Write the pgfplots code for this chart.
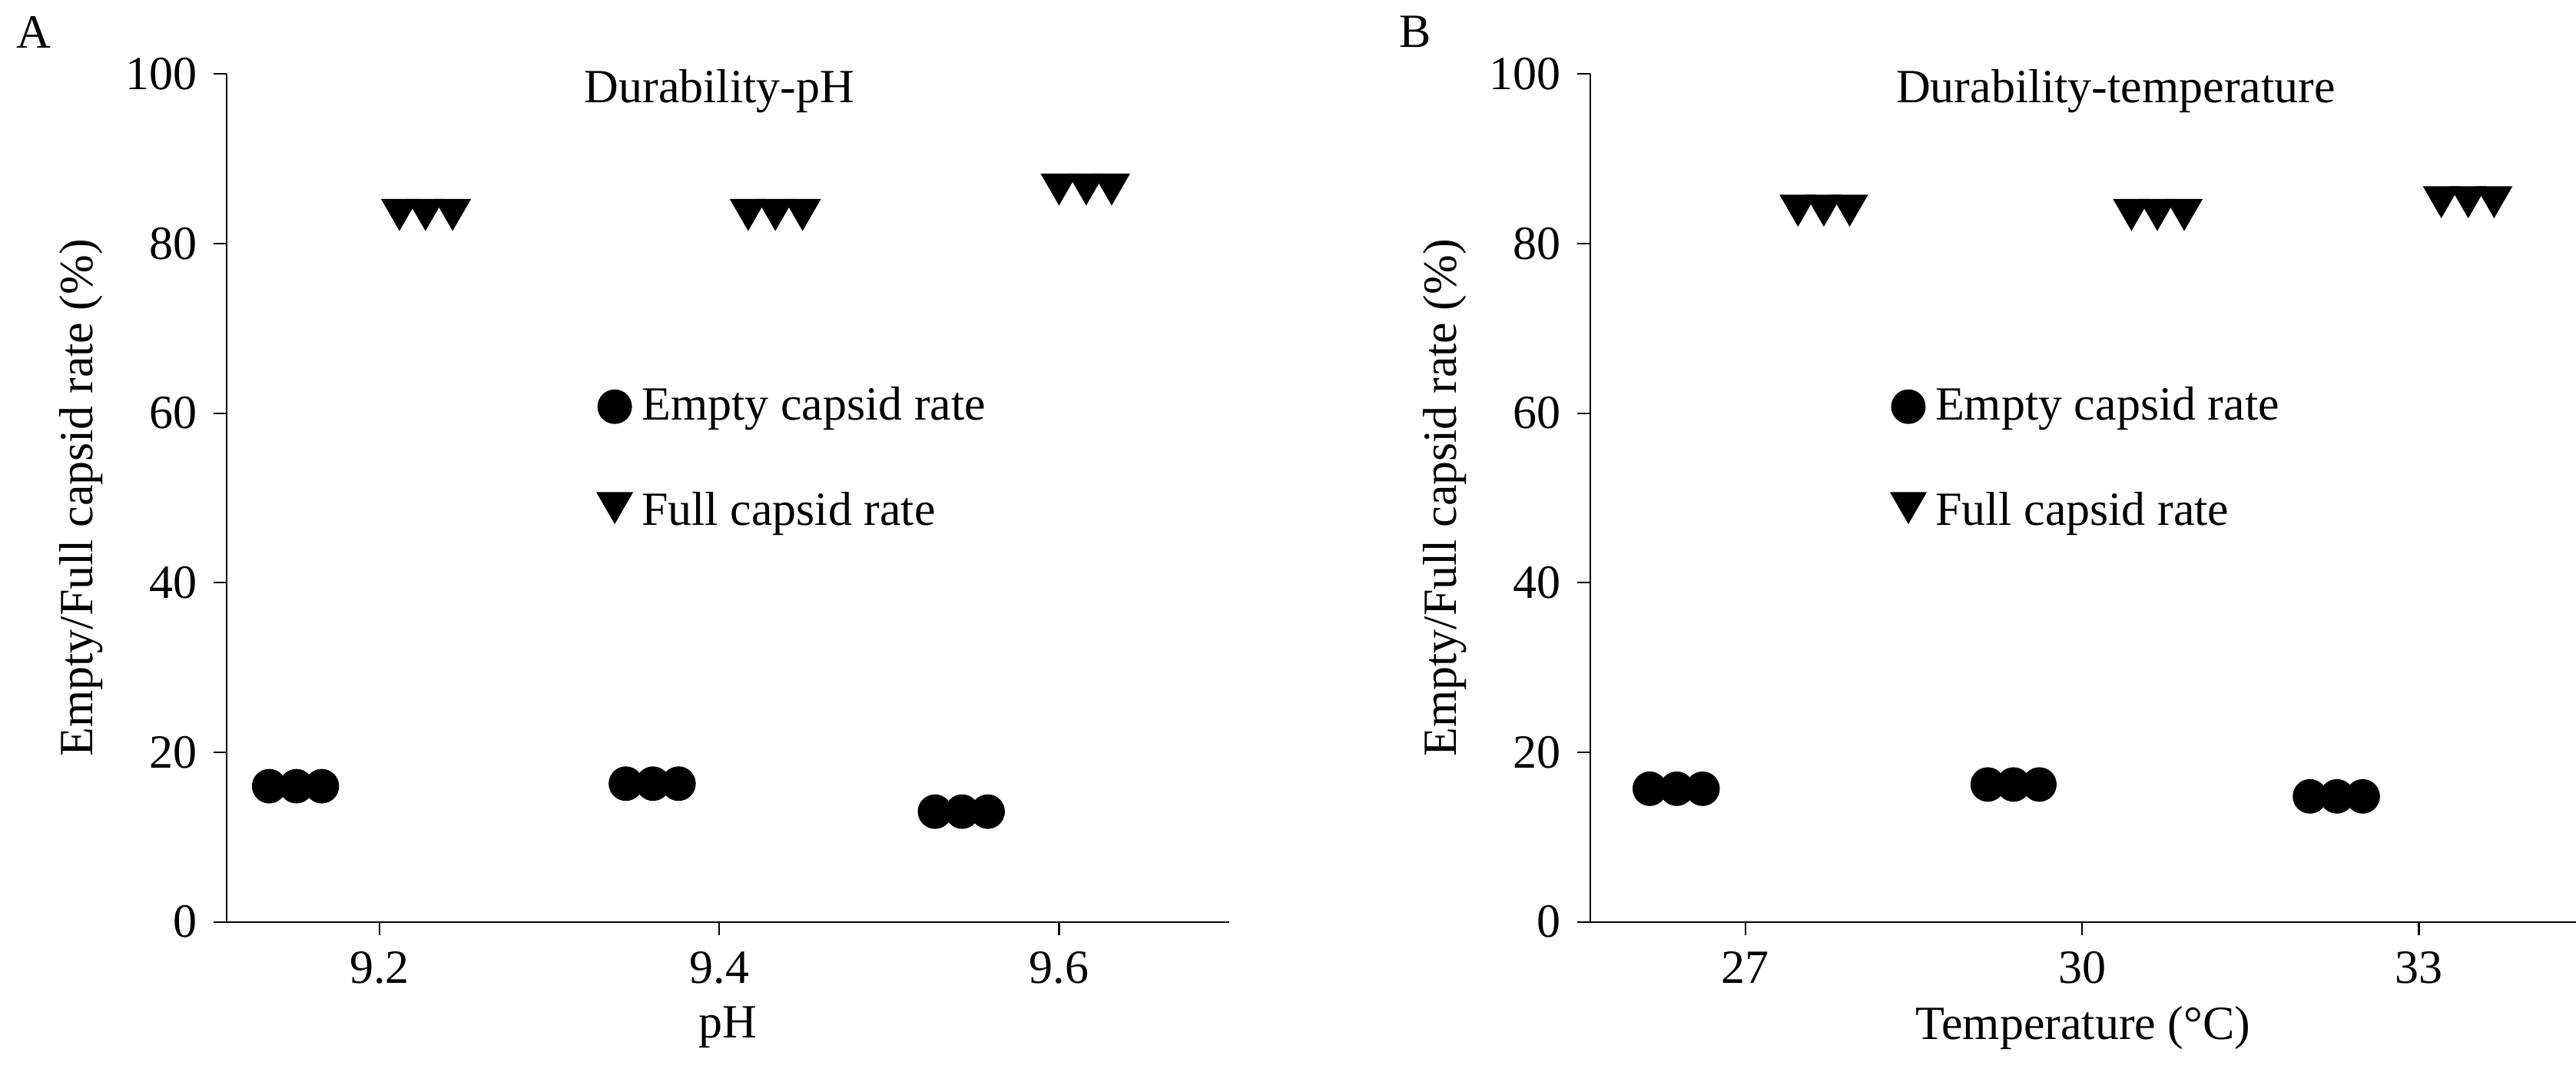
\documentclass[border=0pt]{standalone}
\usepackage{pgfplots}
\pgfplotsset{compat=1.18}
\usepackage{fontspec}
\setmainfont{Liberation Serif}
\begin{document}
\fontsize{29}{34}\selectfont
\begin{tikzpicture}
\pgfplotsset{
  myax/.style={scale only axis, width=610pt, height=516pt, ymin=0, ymax=100,
    axis x line*=bottom, axis y line*=left, ytick={0,20,...,100},
    tick align=outside, major tick length=8pt, line width=1pt,
    every tick/.style={line width=1pt,black},
    ticklabel style={font=\fontsize{29}{34}\selectfont},
    label style={font=\fontsize{29}{34}\selectfont},
    /pgf/number format/assume math mode=true,
    ylabel={Empty/Full capsid rate (\%)}, ylabel style={yshift=-6pt},
    xlabel style={yshift=6pt},
    legend style={draw=none, fill=none, font=\fontsize{29}{34}\selectfont, row sep=36pt,
      /tikz/every odd column/.style={column sep=4pt}},
    legend cell align=left, clip=false},
  circ/.style={only marks, mark=*, mark size=10pt, black},
  tri/.style={only marks, mark=triangle*, mark size=12pt, black, mark options={rotate=180},
    legend image code/.code={\draw[mark=triangle*, mark size=12pt, mark options={rotate=180}] plot coordinates {(0.3cm,6pt)};}},
}
\useasboundingbox (0,0) rectangle (1568pt,652pt);
\node[anchor=north west] at (0pt,652pt) {A};
\node[anchor=north west] at (842pt,652pt) {B};
\begin{axis}[myax, at={(138pt,91pt)}, anchor=south west, xmin=9.11, xmax=9.70,
  xtick={9.2,9.4,9.6}, xticklabels={9.2,9.4,9.6}, xlabel={pH},
  legend style={at={(axis cs:9.325,64)}, anchor=north west}]
\addplot[circ] coordinates {(9.135,16) (9.151,16) (9.166,16) (9.345,16.3) (9.361,16.3) (9.376,16.3) (9.527,13) (9.543,13) (9.558,13)};
\addlegendentry{Empty capsid rate}
\addplot[tri] coordinates {(9.2117,84) (9.227,84) (9.243,84) (9.417,84) (9.433,84) (9.449,84) (9.6,87) (9.616,87) (9.631,87)};
\addlegendentry{Full capsid rate}
\node at (axis cs:9.4,98) {Durability-pH};
\end{axis}
\begin{axis}[myax, at={(968pt,91pt)}, anchor=south west, width=600pt, xmin=25.62, xmax=34.4,
  xtick={27,30,33}, xticklabels={27,30,33}, xlabel={Temperature (\textdegree C)},
  legend style={at={(axis cs:28.25,64)}, anchor=north west}]
\addplot[circ] coordinates {(26.15,15.7) (26.39,15.7) (26.62,15.7) (29.16,16.2) (29.39,16.2) (29.62,16.2) (32.03,14.8) (32.27,14.8) (32.50,14.8)};
\addlegendentry{Empty capsid rate}
\addplot[tri] coordinates {(27.47,84.5) (27.70,84.5) (27.93,84.5) (30.44,84) (30.67,84) (30.91,84) (33.20,85.5) (33.44,85.5) (33.67,85.5)};
\addlegendentry{Full capsid rate}
\node at (axis cs:30.3,98) {Durability-temperature};
\end{axis}
\end{tikzpicture}
\end{document}
